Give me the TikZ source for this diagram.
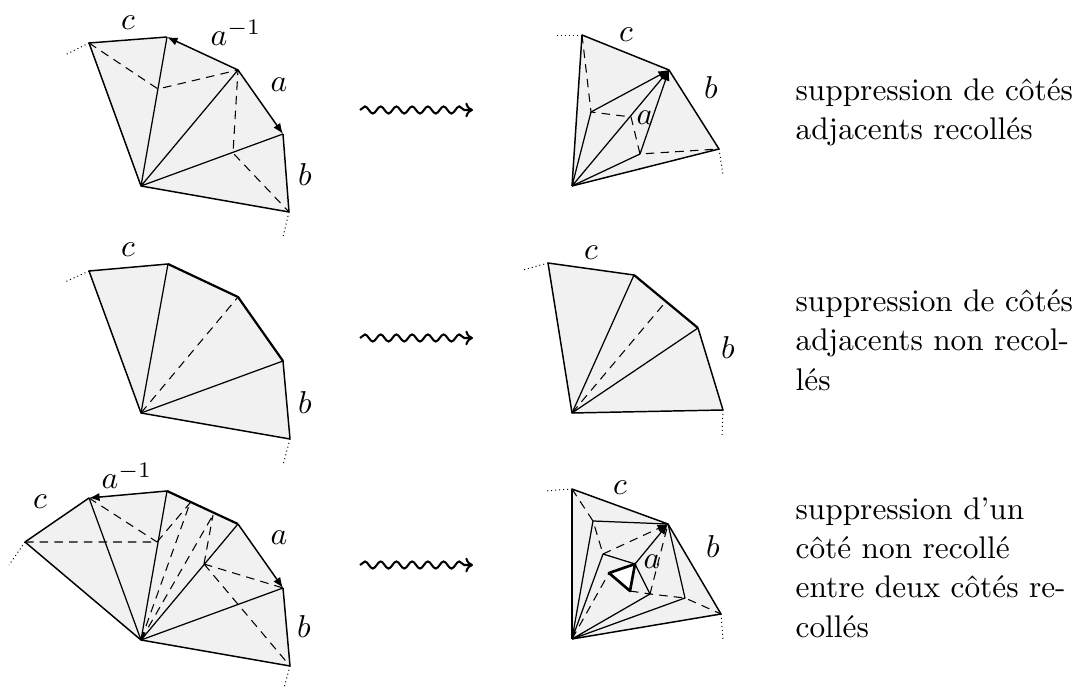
\documentclass[tikz,border=0pt]{standalone}
\usetikzlibrary{arrows.meta,decorations.pathmorphing}
\definecolor{facefill}{gray}{0.945}
\tikzset{
  face/.style={fill=facefill,draw=none},
  sol/.style={line width=0.42pt,line join=round},
  outer/.style={line width=0.5pt,line join=round},
  heavy/.style={line width=0.75pt,line join=round},
  dsh/.style={line width=0.36pt,dash pattern=on 2.9pt off 2.1pt},
  dot/.style={line width=0.33pt,dash pattern=on 0.35pt off 1pt},
  tipped/.style={-{Latex[length=3.6pt,width=2.8pt]}},
  lab/.style={inner sep=0pt,scale=1.075,transform shape,font=\fontsize{10}{12}\selectfont},
  para/.style={inner sep=0pt,anchor=north west,align=left,scale=1.065,transform shape,font=\fontsize{10}{12.55}\selectfont},
  wig/.style={line width=0.7pt,-{To[length=2.6pt,width=5pt]},decorate,
    decoration={snake,amplitude=1.2pt,segment length=5.35pt,post length=1.5pt}}
}
\begin{document}
\begin{tikzpicture}[x=0.34pt,y=-0.34pt]
\useasboundingbox (0,0) rectangle (1074,688);
% ---------- top left
\coordinate (a1) at (89,43); \coordinate (b1) at (167,37); \coordinate (c1) at (238,70);
\coordinate (d1) at (283,134); \coordinate (e1) at (289,212); \coordinate (o1) at (141,186);
\coordinate (p1) at (158,89); \coordinate (q1) at (233,153);
\coordinate (x1) at (65,55); \coordinate (y1) at (283,237);
\fill[face] (o1)--(a1)--(b1)--(c1)--(d1)--(e1)--cycle;
\draw[dot] (a1)--(x1); \draw[dot] (e1)--(y1);
\draw[outer] (b1)--(a1)--(o1)--(e1)--(d1);
\draw[outer,tipped] (c1)--(b1);
\draw[outer,tipped] (c1)--(d1);
\draw[sol] (o1)--(b1) (o1)--(c1) (o1)--(d1);
\draw[dsh] (a1)--(p1)--(c1)--(q1)--(e1);
\node[lab] (t1c) at (128,23) {$c$};
\node[lab] (t1ai) at (236,33) {$a^{-1}$};
\node[lab] (t1a) at (279,85) {$a$};
\node[lab] (t1b) at (305,175) {$b$};
% ---------- top right
\coordinate (a2) at (582,35); \coordinate (c2) at (669,70); \coordinate (e2) at (719,149);
\coordinate (o2) at (572,186); \coordinate (p2) at (591,112); \coordinate (q2) at (640,154);
\coordinate (m2) at (631,117); \coordinate (x2) at (556,35); \coordinate (y2) at (723,175);
\fill[face] (o2)--(a2)--(c2)--(e2)--cycle;
\draw[dot] (a2)--(x2); \draw[dot] (e2)--(y2);
\draw[outer] (o2)--(a2)--(c2)--(e2)--(o2);
\draw[sol] (o2)--(p2) (o2)--(q2) (o2)--(c2);
\draw[sol,tipped] (p2)--(c2);
\draw[sol,tipped] (q2)--(c2);
\draw[dsh] (a2)--(p2)--(m2)--(q2)--(e2);
\node[lab] (t2c) at (626,35) {$c$};
\node[lab] (t2a) at (645,118) {$a$};
\node[lab] (t2b) at (711,88) {$b$};
% ---------- middle left
\coordinate (a3) at (89,271); \coordinate (b3) at (168,264); \coordinate (c3) at (238,297);
\coordinate (d3) at (283,361); \coordinate (e3) at (290,439); \coordinate (o3) at (141,413);
\coordinate (x3) at (65,282); \coordinate (y3) at (283,465);
\fill[face] (o3)--(a3)--(b3)--(c3)--(d3)--(e3)--cycle;
\draw[dot] (a3)--(x3); \draw[dot] (e3)--(y3);
\draw[outer] (b3)--(a3)--(o3)--(e3)--(d3);
\draw[heavy] (b3)--(c3)--(d3);
\draw[sol] (o3)--(b3) (o3)--(d3);
\draw[dsh] (o3)--(c3);
\node[lab] (t3c) at (128,250) {$c$};
\node[lab] (t3b) at (305,403) {$b$};
% ---------- middle right
\coordinate (a4) at (548,263); \coordinate (b4) at (634,275); \coordinate (c4) at (698,328);
\coordinate (e4) at (723,410); \coordinate (o4) at (572,413); \coordinate (m4) at (663,305);
\coordinate (x4) at (523,270); \coordinate (y4) at (722,437);
\fill[face] (o4)--(a4)--(b4)--(c4)--(e4)--cycle;
\draw[dot] (a4)--(x4); \draw[dot] (e4)--(y4);
\draw[outer] (b4)--(a4)--(o4)--(e4)--(c4);
\draw[heavy] (b4)--(c4);
\draw[sol] (o4)--(b4) (o4)--(c4);
\draw[dsh] (o4)--(m4);
\node[lab] (t4c) at (591,253) {$c$};
\node[lab] (t4b) at (728,348) {$b$};
% ---------- bottom left
\coordinate (a5) at (25,542); \coordinate (b5) at (89,498); \coordinate (c5) at (167,491);
\coordinate (d5) at (238,524); \coordinate (f5) at (283,588); \coordinate (e5) at (290,666);
\coordinate (o5) at (141,640); \coordinate (j5) at (157,542); \coordinate (k5) at (204,564);
\coordinate (u5) at (190,503); \coordinate (v5) at (213,515);
\coordinate (x5) at (9,565); \coordinate (y5) at (284,688);
\fill[face] (o5)--(a5)--(b5)--(c5)--(d5)--(f5)--(e5)--cycle;
\draw[dot] (a5)--(x5); \draw[dot] (e5)--(y5);
\draw[outer] (b5)--(a5)--(o5)--(e5)--(f5);
\draw[outer,tipped] (c5)--(b5);
\draw[outer,tipped] (d5)--(f5);
\draw[heavy] (c5)--(d5);
\draw[sol] (o5)--(b5) (o5)--(c5) (o5)--(d5) (o5)--(f5);
\draw[dsh] (a5)--(j5) (b5)--(j5) (j5)--(u5) (o5)--(u5) (o5)--(v5) (k5)--(v5) (k5)--(f5) (k5)--(e5);
\node[lab] (t5c) at (40,502) {$c$};
\node[lab] (t5ai) at (127,476) {$a^{-1}$};
\node[lab] (t5a) at (279,538) {$a$};
\node[lab] (t5b) at (304,627) {$b$};
% ---------- bottom right
\coordinate (a6) at (572,489); \coordinate (c6) at (668,524); \coordinate (e6) at (721,614);
\coordinate (o6) at (572,639); \coordinate (g6) at (593,521); \coordinate (h6) at (685,598);
\coordinate (i6) at (603,554); \coordinate (k6) at (650,594);
\coordinate (t6) at (609,573); \coordinate (u6) at (635,564); \coordinate (v6) at (630,591);
\coordinate (x6) at (545,491); \coordinate (y6) at (723,640);
\fill[face] (o6)--(a6)--(c6)--(e6)--cycle;
\draw[dot] (a6)--(x6); \draw[dot] (e6)--(y6);
\draw[outer] (a6)--(c6)--(e6)--(o6);
\draw[heavy] (o6)--(a6);
\draw[sol] (o6)--(g6)--(c6)--(h6)--(o6) (o6)--(i6)--(u6)--(k6)--(o6);
\draw[sol,tipped] (u6)--(c6);
\draw[dsh] (a6)--(g6)--(i6) (k6)--(c6) (o6)--(t6) (v6)--(k6)--(h6)--(e6);
\draw[dsh,tipped] (i6)--(c6);
\filldraw[fill=white,line width=0.9pt,line join=round] (t6)--(u6)--(v6)--cycle;
\node[lab] (t6c) at (620,488) {$c$};
\node[lab] (t6a) at (652,562) {$a$};
\node[lab] (t6b) at (713,547) {$b$};
% ---------- arrows
\coordinate (w1a) at (360,110); \coordinate (w1b) at (473,110);
\coordinate (w2a) at (360,338); \coordinate (w2b) at (473,338);
\coordinate (w3a) at (360,565); \coordinate (w3b) at (473,565);
\draw[wig] (w1a)--(w1b);
\draw[wig] (w2a)--(w2b);
\draw[wig] (w3a)--(w3b);
% ---------- text
\node[para] (n1) at (795,78) {suppression de côtés\\adjacents recollés};
\node[para] (n2) at (795,289) {suppression de côtés\\adjacents non recol-\\lés};
\node[para] (n3) at (795,497) {suppression d'un\\côté non recollé\\entre deux côtés re-\\collés};
\end{tikzpicture}
\end{document}
